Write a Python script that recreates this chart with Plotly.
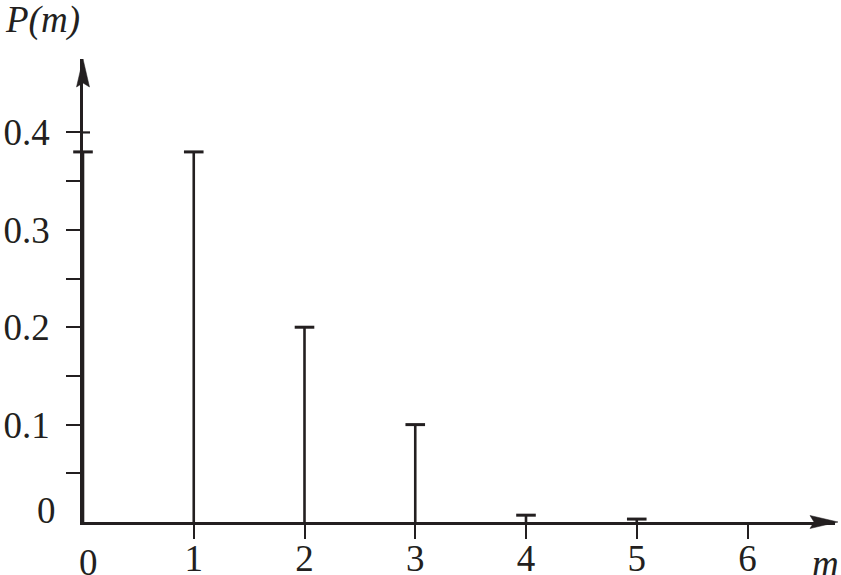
import plotly.graph_objects as go

# ---- data ----
m_values = [0, 1, 2, 3, 4, 5]
p_values = [0.38, 0.38, 0.20, 0.10, 0.007, 0.003]
x_tick_vals = [1, 2, 3, 4, 5, 6]
x_tick_text = ["1", "2", "3", "4", "5", "6"]
y_tick_vals = [0.05, 0.10, 0.15, 0.20, 0.25, 0.30, 0.35, 0.40]
y_tick_text = ["", "0.1", "", "0.2", "", "0.3", "", "0.4"]

INK = "#231f20"
FONT = "Liberation Serif, Times New Roman, serif"
FS = 37
X_MAX = 6.79
Y_MAX = 0.4754

# stems built from the data
sx, sy = [], []
for m, p in zip(m_values, p_values):
    sx += [m, m, None]
    sy += [0, p, None]

fig = go.Figure()
fig.add_trace(go.Scatter(x=sx, y=sy, mode="lines",
                         line=dict(color=INK, width=2.6),
                         hoverinfo="skip", showlegend=False, cliponaxis=False))
fig.add_trace(go.Scatter(x=m_values, y=p_values, mode="markers",
                         marker=dict(symbol="line-ew", size=14,
                                     line=dict(color=INK, width=3)),
                         showlegend=False, cliponaxis=False))

fig.update_layout(
    width=841, height=575,
    margin=dict(l=83, r=6, t=59, b=53, autoexpand=False),
    paper_bgcolor="white", plot_bgcolor="white",
    font=dict(family=FONT, size=FS, color=INK),
    xaxis=dict(range=[0, X_MAX], showgrid=False, zeroline=False, automargin=False,
               showline=True, linecolor=INK, linewidth=2.5,
               tickmode="array", tickvals=x_tick_vals, ticktext=x_tick_text,
               ticks="outside", ticklen=14, tickwidth=2.2, tickcolor=INK,
               ticklabelstandoff=-12,
               tickfont=dict(family=FONT, size=FS, color=INK)),
    yaxis=dict(range=[0, Y_MAX], showgrid=False, zeroline=False, automargin=False,
               showline=True, linecolor=INK, linewidth=2.5,
               tickmode="array", tickvals=y_tick_vals, ticktext=y_tick_text,
               ticks="outside", ticklen=14, tickwidth=2.2, tickcolor=INK,
               ticklabelstandoff=9,
               tickfont=dict(family=FONT, size=FS, color=INK)),
)

shapes = []
# arrowheads (paper-anchored so they are not clipped)
shapes.append(dict(type="path", xref="paper", yref="paper", xsizemode="pixel", ysizemode="pixel",
                   xanchor=1, yanchor=0,
                   path="M3,0 L-25,6.5 L-21,0 L-25,-6.5 Z",
                   fillcolor=INK, line=dict(color=INK, width=0.5)))
shapes.append(dict(type="path", xref="paper", yref="paper", xsizemode="pixel", ysizemode="pixel",
                   xanchor=0, yanchor=1,
                   path="M0,0 L-6.5,-28 L0,-24 L6.5,-28 Z",
                   fillcolor=INK, line=dict(color=INK, width=0.5)))
# crossing part of the 0.4 tick (right side of axis)
shapes.append(dict(type="line", xref="paper", yref="y", xsizemode="pixel",
                   xanchor=0, x0=0, x1=7, y0=0.4, y1=0.4,
                   line=dict(color=INK, width=2.2)))
fig.update_layout(shapes=shapes)

annotations = [
    dict(text="P(m)", xref="paper", yref="paper", x=-0.1064, y=1.084,
         xanchor="left", yanchor="middle", showarrow=False,
         font=dict(family=FONT, size=FS, color=INK, style="italic")),
    dict(text="m", xref="paper", yref="paper", x=0.988, y=-0.0886,
         xanchor="center", yanchor="middle", showarrow=False,
         font=dict(family=FONT, size=FS, color=INK, style="italic")),
    dict(text="0", xref="x", yref="y", x=0, y=0.012, xanchor="right", yanchor="middle",
         xshift=-25, showarrow=False, font=dict(family=FONT, size=FS, color=INK)),
    dict(text="0", xref="x", yref="y", x=0, y=0, xanchor="center", yanchor="top",
         xshift=5, yshift=-18, showarrow=False, font=dict(family=FONT, size=FS, color=INK)),
]
fig.update_layout(annotations=annotations)

fig.write_html("out.html", config={"displayModeBar": False},
               post_script="document.body.style.margin='0px';")
